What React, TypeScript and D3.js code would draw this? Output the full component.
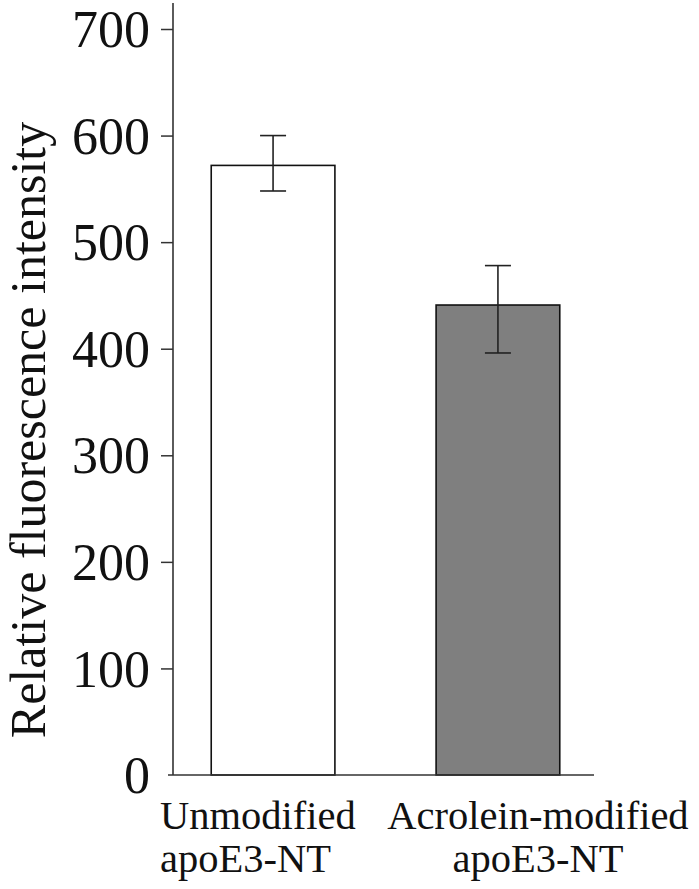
import React, { useRef, useEffect } from 'react';
import * as d3 from 'd3';

// values
const categories = ['unmod', 'acro'];
const labelLines = [
  ['Unmodified', 'apoE3-NT'],
  ['Acrolein-modified', 'apoE3-NT'],
];
const means = [572, 441];
const errLow = [548, 396];
const errHigh = [600, 478];
const barFills = ['#ffffff', '#7f7f7f'];
const yTicks = [0, 100, 200, 300, 400, 500, 600, 700];
const yTitle = 'Relative fluorescence intensity';

const width = 699;
const height = 889;

const App = () => {
  const svgRef = useRef<SVGSVGElement>(null);

  useEffect(() => {
    const svg = d3.select(svgRef.current);
    svg.selectAll('*').remove();

    const axisX = 173;
    const baseY = 775;

    const y = d3.scaleLinear().domain([0, 700]).range([baseY, 29]);
    const x = d3.scaleBand().domain(categories).range([axisX, 598])
      .paddingInner(0.45).paddingOuter(0.17);

    const font = "'Liberation Serif', 'Times New Roman', serif";

    // bars
    svg.append('g').selectAll('rect')
      .data(categories)
      .join('rect')
      .attr('x', d => x(d)!)
      .attr('y', (d, i) => y(means[i]))
      .attr('width', x.bandwidth())
      .attr('height', (d, i) => baseY - y(means[i]))
      .attr('fill', (d, i) => barFills[i])
      .attr('stroke', '#111')
      .attr('stroke-width', 1.6);

    // error bars
    const eb = svg.append('g').attr('stroke', '#222').attr('stroke-width', 1.6);
    categories.forEach((c, i) => {
      const cx = x(c)! + x.bandwidth() / 2;
      eb.append('line').attr('x1', cx).attr('x2', cx).attr('y1', y(errLow[i])).attr('y2', y(errHigh[i]));
      eb.append('line').attr('x1', cx - 13).attr('x2', cx + 13).attr('y1', y(errLow[i])).attr('y2', y(errLow[i]));
      eb.append('line').attr('x1', cx - 13).attr('x2', cx + 13).attr('y1', y(errHigh[i])).attr('y2', y(errHigh[i]));
    });

    // y axis
    const yAxis = d3.axisLeft(y).tickValues(yTicks).tickSize(12).tickSizeOuter(0).tickPadding(11);
    const ga = svg.append('g').attr('transform', `translate(${axisX},0)`).call(yAxis);
    ga.select('.domain').remove();
    ga.selectAll('.tick line').attr('stroke', '#333').attr('stroke-width', 1.5);
    ga.selectAll('.tick').filter((d: any) => d === 0).select('line').remove();
    ga.selectAll('.tick text')
      .attr('font-family', font)
      .attr('font-size', 52)
      .attr('fill', '#111')
      .attr('dy', '0.34em');

    svg.append('line')
      .attr('x1', axisX).attr('x2', axisX)
      .attr('y1', 3).attr('y2', baseY)
      .attr('stroke', '#333').attr('stroke-width', 1.6);
    svg.append('line')
      .attr('x1', axisX - 5).attr('x2', 594)
      .attr('y1', baseY).attr('y2', baseY)
      .attr('stroke', '#333').attr('stroke-width', 1.6);

    // y title
    svg.append('text')
      .attr('transform', `translate(45,${430}) rotate(-90)`)
      .attr('text-anchor', 'middle')
      .attr('font-family', font)
      .attr('font-size', 50)
      .attr('fill', '#111')
      .text(yTitle);

    // category labels
    const anchors = ['start', 'middle'];
    const dxs = [-113, 40];
    categories.forEach((c, i) => {
      const cx = x(c)! + x.bandwidth() / 2;
      labelLines[i].forEach((line, j) => {
        svg.append('text')
          .attr('x', cx + dxs[i])
          .attr('y', 829 + j * 43)
          .attr('text-anchor', anchors[i])
          .attr('font-family', font)
          .attr('font-size', 40.5)
          .attr('fill', '#111')
          .text(line);
      });
    });
  }, []);

  return (
    <svg ref={svgRef} width={width} height={height}
      style={{ position: 'absolute', left: 0, top: 0, background: '#fff' }} />
  );
};

export default App;
